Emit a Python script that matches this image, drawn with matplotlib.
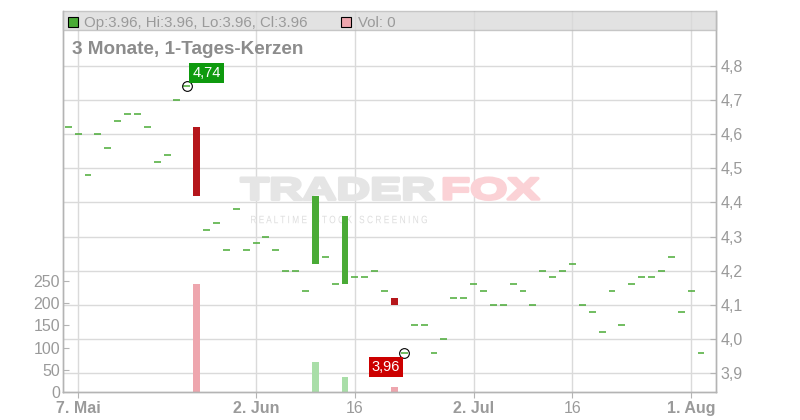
import matplotlib
matplotlib.use("Agg")
import matplotlib.pyplot as plt
from matplotlib.patches import Rectangle, PathPatch
from matplotlib.textpath import TextPath
from matplotlib.font_manager import FontProperties
from matplotlib.transforms import Affine2D, blended_transform_factory
import numpy as np

# ---------------- data (trading-day index 0 = 6 May) ----------------
closes = [4.62, 4.60, 4.48, 4.60, 4.56, 4.64, 4.66, 4.66, 4.62, 4.52,
          4.54, 4.70, 4.74, 4.42, 4.32, 4.34, 4.26, 4.38, 4.26, 4.28,
          4.30, 4.26, 4.20, 4.20, 4.14, 4.42, 4.24, 4.16, 4.36, 4.18,
          4.18, 4.20, 4.14, 4.10, 3.96, 4.04, 4.04, 3.96, 4.00, 4.12,
          4.12, 4.16, 4.14, 4.10, 4.10, 4.16, 4.14, 4.10, 4.20, 4.18,
          4.20, 4.22, 4.10, 4.08, 4.02, 4.14, 4.04, 4.16, 4.18, 4.18,
          4.20, 4.24, 4.08, 4.14, 3.96]
opens = list(closes)
opens[13] = 4.62
opens[25] = 4.22
opens[28] = 4.16
opens[33] = 4.12
volumes = [0] * len(closes)
volumes[13] = 243
volumes[25] = 68
volumes[28] = 34
volumes[33] = 12

x_tick_pos = [1, 19, 29, 41, 51, 63]
x_tick_labels = ["7. Mai", "2. Jun", "16", "2. Jul", "16", "1. Aug"]
x_tick_bold = [True, True, False, True, False, True]
price_ticks = [3.9, 4.0, 4.1, 4.2, 4.3, 4.4, 4.5, 4.6, 4.7, 4.8]
vol_ticks = [0, 50, 100, 150, 200, 250]

# ---------------- styling ----------------
FONT = "Liberation Sans"
plt.rcParams['font.family'] = [FONT, 'DejaVu Sans']
GRID = '#dadada'
SPINE = '#b4b4b4'
TXT = '#9a9a9a'
GREEN = '#4aab36'
RED = '#b5161b'
VOL_GREEN = '#a9dea8'
VOL_RED = '#eea6ae'

W, H = 800, 420
L, R, T, B = 63, 716, 11, 392.3
fig = plt.figure(figsize=(W / 100, H / 100), dpi=100)
ax_vol = fig.add_axes([L / W, (H - B) / H, (R - L) / W, (B - T) / H])
ax = ax_vol.twinx()

def fx(px):
    return (px - L) / (R - L)

def fy(py):
    return (B - py) / (B - T)

idx = np.arange(len(closes))
o = np.array(opens)
c = np.array(closes)
v = np.array(volumes)
hi = np.maximum(o, c)
lo = np.minimum(o, c)

ax.set_xlim(-0.526, 65.52)
ax_vol.set_xlim(-0.526, 65.52)
ax.set_ylim(3.8434, 4.9612)
ax_vol.set_ylim(0, 854)

# grid (in lowest axes)
blend = blended_transform_factory(ax_vol.transAxes, ax.transData)
for p in price_ticks:
    ax_vol.plot([0, 1], [p, p], transform=blend, color=GRID, lw=1.0, zorder=0)
for xp in x_tick_pos:
    ax_vol.axvline(xp, color=GRID, lw=1.0, zorder=0)

# watermark
def stretched_text(axis, s, x0, y0, x1, y1, color, weight='bold', stroke=0.0):
    tp = TextPath((0, 0), s, size=1, prop=FontProperties(family=FONT, weight=weight))
    ext = tp.get_extents()
    tr = (Affine2D().translate(-ext.x0, -ext.y0)
          .scale((x1 - x0) / ext.width, (y1 - y0) / ext.height)
          .translate(x0, y0) + axis.transAxes)
    axis.add_patch(PathPatch(tp, transform=tr, fc=color, ec=color if stroke else 'none',
                             lw=stroke, joinstyle='round', zorder=0.5))

stretched_text(ax_vol, "TRADER", fx(241), fy(199.5), fx(434), fy(178), '#e5e5e5', stroke=2.2)
stretched_text(ax_vol, "FOX", fx(444), fy(199.5), fx(539), fy(178), '#fbd2d6', stroke=2.2)
stretched_text(ax_vol, "R E A L T I M E   S T O C K   S C R E E N I N G",
               fx(251), fy(223.3), fx(427), fy(215.7), '#dedede', weight='normal')

# volume bars
vcol = [VOL_RED if cc < oo else VOL_GREEN for oo, cc in zip(o, c)]
ax_vol.bar(idx, v, width=0.7, color=vcol, zorder=1)

# candles
body = c != o
ccol = [RED if cc < oo else GREEN for oo, cc in zip(o[body], c[body])]
ax.bar(idx[body], hi[body] - lo[body], bottom=lo[body], width=0.7, color=ccol, zorder=3)
ax.hlines(c[~body], idx[~body] - 0.35, idx[~body] + 0.35, color=GREEN, lw=1.1, zorder=3)

# max / min markers
imax = int(np.argmax(hi))
imin = int(np.argmin(lo))
ax.plot([imax, imin], [hi[imax], lo[imin]], 'o', mfc='none', mec='black', ms=7, mew=0.8, zorder=4)
ax.annotate(f"{hi[imax]:.2f}".replace('.', ','), xy=(imax, hi[imax]), xytext=(4.0, 4.6),
            textcoords='offset points', ha='left', va='bottom', color='white', fontsize=10.5,
            bbox=dict(boxstyle='square,pad=0.2', fc='#0e9a0e', ec='none'), zorder=5)
ax.annotate(f"{lo[imin]:.2f}".replace('.', ','), xy=(imin, lo[imin]), xytext=(-3.2, -5.2),
            textcoords='offset points', ha='right', va='top', color='white', fontsize=10.5,
            bbox=dict(boxstyle='square,pad=0.2', fc='#cc0000', ec='none'), zorder=5)

# axes formatting
for a in (ax, ax_vol):
    for s in a.spines.values():
        s.set_color(SPINE)
        s.set_linewidth(1.0)
    a.spines['top'].set_visible(False)

ax.set_yticks(price_ticks)
ax.set_yticklabels([f"{p:.1f}".replace('.', ',') for p in price_ticks])
ax.tick_params(axis='y', direction='in', length=4, color=SPINE, labelcolor=TXT,
               labelsize=11.5, pad=3)
ax_vol.set_yticks(vol_ticks)
ax_vol.set_yticklabels([str(t) for t in vol_ticks])
ax_vol.tick_params(axis='y', direction='in', length=4, color=SPINE, labelcolor=TXT,
                   labelsize=11.5, pad=2)
ax.tick_params(axis='x', bottom=False, labelbottom=False)
ax_vol.set_xticks(x_tick_pos)
ax_vol.set_xticklabels(x_tick_labels)
ax_vol.tick_params(axis='x', direction='out', length=4, color=SPINE, labelcolor=TXT,
                   labelsize=11.5, pad=2)
for lab, bold in zip(ax_vol.get_xticklabels(), x_tick_bold):
    lab.set_fontweight('bold' if bold else 'normal')

# header bar
ax.add_patch(Rectangle((0, fy(30)), 1, 1 - fy(30), transform=ax.transAxes,
                       fc='#d9d9d9', alpha=0.75, ec='#b8b8b8', lw=1.0, zorder=6, clip_on=False))
ax.add_patch(Rectangle((fx(68), fy(27)), fx(78) - fx(68), fy(17) - fy(27), transform=ax.transAxes,
                       fc=GREEN, ec='black', lw=0.8, zorder=7, clip_on=False))
ax.add_patch(Rectangle((fx(341), fy(27)), fx(351) - fx(341), fy(17) - fy(27), transform=ax.transAxes,
                       fc=VOL_RED, ec='black', lw=0.8, zorder=7, clip_on=False))
last = len(closes) - 1
ax.text(fx(84), fy(26.7),
        f"Op:{o[last]:.2f}, Hi:{hi[last]:.2f}, Lo:{lo[last]:.2f}, Cl:{c[last]:.2f}",
        transform=ax.transAxes, ha='left', va='baseline', color=TXT, fontsize=10.8, zorder=7)
ax.text(fx(358), fy(26.7), f"Vol: {volumes[last]}", transform=ax.transAxes,
        ha='left', va='baseline', color=TXT, fontsize=10.8, zorder=7)
ax.text(fx(72), fy(54), "3 Monate, 1-Tages-Kerzen", transform=ax.transAxes,
        ha='left', va='baseline', color='#8c8c8c', fontsize=13.6, fontweight='bold', zorder=7)

fig.savefig("out.png", dpi=100)
